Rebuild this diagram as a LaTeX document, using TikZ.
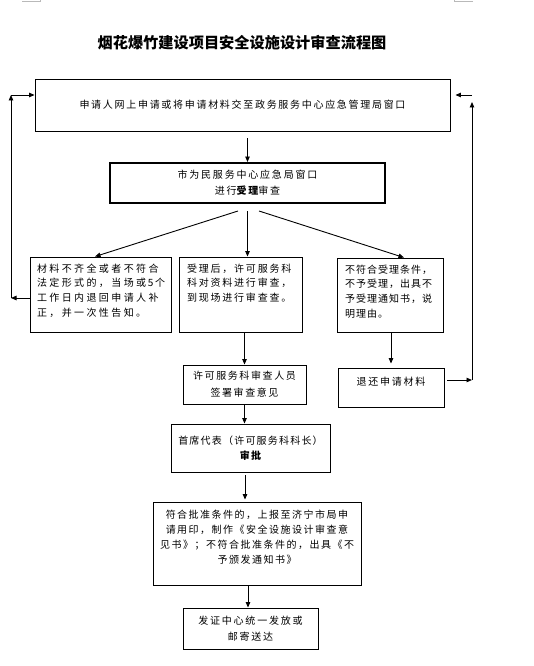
\documentclass[tikz,border=0pt]{standalone}
\usepackage{fontspec}
\setmainfont{Noto Sans CJK SC}
\usetikzlibrary{arrows.meta,calc}
\newcommand\bodyfont[2]{\fontsize{10}{#1}\selectfont\addfontfeature{LetterSpace=#2}}
\begin{document}
\begin{tikzpicture}[x=1pt,y=-1pt,
  box/.style={draw,line width=0.9pt,inner xsep=0pt,inner ysep=0pt,align=center},
  arr/.style={line width=0.9pt,-{Triangle[length=5.5pt,width=4.5pt]}},
  cropmark/.style={draw=gray!55,line width=0.7pt}]
\useasboundingbox (0,0) rectangle (533,666);
\draw[cropmark] (22,1) -- (40,1) -- (40,0);
\draw[cropmark] (473,1) -- (454,1) -- (454,0);

\node[font={\fontsize{15.2}{17}\selectfont\bfseries}] (title) at (242,43) {烟花爆竹建设项目安全设施设计审查流程图};

\node[box,minimum width=415pt,minimum height=52pt,font={\bodyfont{14.7}{17}}] (b1) at (242.5,105)
  {申请人网上申请或将申请材料交至政务服务中心应急管理局窗口};

\node[box,line width=2pt,minimum width=275pt,minimum height=40pt,font={\bodyfont{16}{18}}] (b2) at (247.5,183)
  {市为民服务中心应急局窗口\\进行{\bfseries 受理}审查};

\node[box,align=left,text width=127pt,inner xsep=7pt,text height=15pt,text depth=60pt,font={\bodyfont{14.7}{24}}] (lb) at (100.5,294.5)
  {材料不齐全或者不符合\\法定形式的，当场或\hbox{\,5\,}个\\工作日内退回申请人补\\正，并一次性告知。};

\node[box,align=left,text width=107pt,inner xsep=8pt,text height=15pt,text depth=60pt,font={\bodyfont{14.7}{18}}] (mb) at (240.5,294.5)
  {受理后，许可服务科\\科对资料进行审查，\\到现场进行审查查。};

\node[box,align=left,text width=90pt,inner xsep=8pt,text height=15pt,text depth=59pt,font={\bodyfont{14.7}{10}}] (rb) at (390,295)
  {不符合受理条件，\\不予受理，出具不\\予受理通知书，说\\明理由。};

\node[box,minimum width=123pt,minimum height=39pt,font={\bodyfont{17}{16}}] (xk) at (244.5,384.5)
  {许可服务科审查人员\\签署审查意见};

\node[box,text width=106pt,text height=17pt,text depth=22pt,font={\bodyfont{14.7}{18}}] (th) at (391,387.5)
  {退还申请材料};

\node[box,minimum width=159pt,minimum height=48pt,font={\bodyfont{15}{12}}] (sx) at (250.5,448)
  {首席代表（许可服务科科长）\\{\bfseries 审批}};

\node[box,text width=195pt,inner xsep=6.5pt,text height=16pt,text depth=67pt,font={\bodyfont{15.3}{15}}] (fh) at (257,543.5)
  {符合批准条件的，上报至济宁市局申\\请用印，制作《安全设施设计审查意\\见书》；不符合批准条件的，出具《不\\予颁发通知书》};

\node[box,minimum width=135pt,minimum height=41pt,font={\bodyfont{16}{18}}] (fd) at (250.5,628.5)
  {发证中心统一发放或\\邮寄送达};

% connectors
\draw[arr,shorten <=7pt] (b2.north |- b1.south) -- (b2.north);
\draw[arr] ($(b2.south)+(-9.5,7)$) -- ($(lb.north)+(-5.5,0)$);
\draw[arr] ($(b2.south)+(0,7)$) -- (b2.south |- mb.north);
\draw[arr] ($(b2.south)+(11.5,7)$) -- ($(rb.north)+(14,0)$);
\draw[arr] (xk.north |- mb.south) -- (xk.north);
\draw[arr,shorten >=4pt] (th.north |- rb.south) -- (th.north);
\draw[arr] (xk.south) -- (xk.south |- sx.north);
\draw[arr,shorten <=3pt,shorten >=2pt] ($(sx.south)+(-5.5,0)$) coordinate (t1) -- (t1 |- fh.north);
\draw[arr] ($(fh.south)+(-9,0)$) coordinate (t2) -- (t2 |- fd.north);

\coordinate (L1) at (11,298);
\coordinate (L2) at (11,95);
\draw[arr] (lb.west |- L1) -- (L1);
\draw[arr] (L1) -- (L2);
\draw[arr] (L2) -- (b1.west |- L2);

\coordinate (R1) at (472,380);
\coordinate (R2) at (472,95);
\draw[arr,shorten <=3pt] (th.east |- R1) -- (R1);
\draw[arr,shorten >=7pt] (R1) -- (R2);
\draw[arr,shorten >=5pt] (R2) -- (b1.east |- R2);
\end{tikzpicture}
\end{document}
